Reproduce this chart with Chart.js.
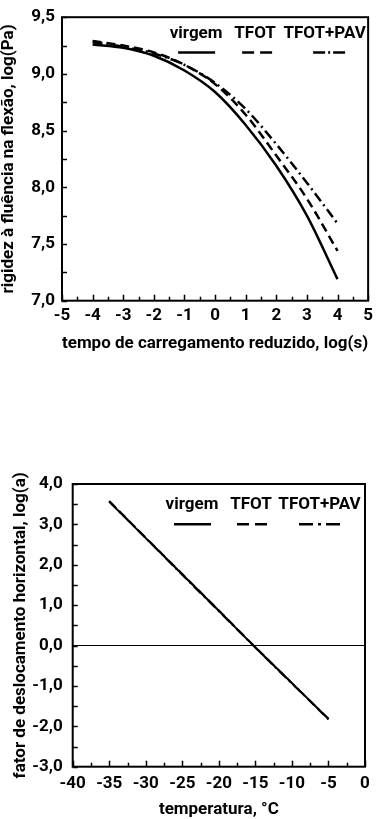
<!DOCTYPE html>
<html><head><meta charset="utf-8">
<script src="https://cdn.jsdelivr.net/npm/chart.js@4"></script>
<style>
html,body{margin:0;padding:0;background:#fff;width:378px;height:819px;overflow:hidden}
canvas{position:absolute;left:0}
#c1{top:0}#c2{top:400px}
</style></head>
<body>
<canvas id="c1" width="378" height="400"></canvas>
<canvas id="c2" width="378" height="419"></canvas>
<script>
// ---- data ----
const seriesNames = ['virgem', 'TFOT', 'TFOT+PAV'];
const logTime = [-4, -3, -2, -1, 0, 1, 2, 3, 4];
const stiffVirgem = [9.26, 9.23, 9.16, 9.03, 8.84, 8.55, 8.19, 7.75, 7.19];
const stiffTFOT   = [9.29, 9.25, 9.19, 9.08, 8.91, 8.64, 8.28, 7.90, 7.44];
const stiffPAV    = [9.28, 9.24, 9.18, 9.08, 8.92, 8.69, 8.38, 8.04, 7.68];
const temps = [-35, -30, -25, -20, -15, -10, -5];
const shiftVirgem = [3.56, 2.66, 1.76, 0.86, -0.05, -0.93, -1.82];
const shiftTFOT   = [3.58, 2.67, 1.77, 0.87, -0.04, -0.93, -1.83];
const shiftPAV    = [3.57, 2.66, 1.75, 0.85, -0.05, -0.94, -1.81];
const xTicksTop = [-5, -4, -3, -2, -1, 0, 1, 2, 3, 4, 5];
const yTicksTop = [7.0, 7.5, 8.0, 8.5, 9.0, 9.5];
const xTicksBot = [-40, -35, -30, -25, -20, -15, -10, -5, 0];
const yTicksBot = [-3, -2, -1, 0, 1, 2, 3, 4];

const FONT = "Roboto, 'Liberation Sans', Arial, sans-serif";
Chart.defaults.font.family = FONT;
Chart.defaults.font.size = 17;
Chart.defaults.font.weight = 'bold';
Chart.defaults.color = '#000';

function allTicks(majors) {
  const out = [];
  for (let i = 0; i < majors.length; i++) {
    out.push(majors[i]);
    if (i < majors.length - 1) out.push((majors[i] + majors[i + 1]) / 2);
  }
  return out;
}
const comma = v => v.toFixed(1).replace('.', ',');
const pts = (xs, ys) => xs.map((x, i) => ({ x, y: ys[i] }));

const frame = {
  id: 'frame',
  afterDraw(chart, args, o) {
    const { ctx, chartArea: a } = chart;
    const xs = chart.scales.x, ys = chart.scales.y;
    ctx.save();
    ctx.strokeStyle = '#000';
    ctx.setLineDash([]);
    ctx.lineWidth = 1.5;
    xs.ticks.forEach(t => {
      const p = Math.round(xs.getPixelForValue(t.value)) + 0.5;
      const L = o.xMajor.includes(t.value) ? 6 : 4;
      ctx.beginPath(); ctx.moveTo(p, a.bottom); ctx.lineTo(p, a.bottom - L); ctx.stroke();
    });
    ys.ticks.forEach(t => {
      const p = Math.round(ys.getPixelForValue(t.value)) + 0.5;
      const L = 5;
      ctx.beginPath(); ctx.moveTo(a.left, p); ctx.lineTo(a.left + L, p); ctx.stroke();
    });
    ctx.lineWidth = 2;
    ctx.strokeRect(a.left, a.top, a.right - a.left, a.bottom - a.top);
    ctx.restore();
  }
};

const keyLegend = {
  id: 'keyLegend',
  afterDraw(chart, args, o) {
    const { ctx, chartArea: a } = chart;
    ctx.save();
    ctx.font = 'bold 17px ' + FONT;
    ctx.fillStyle = '#000';
    ctx.strokeStyle = '#000';
    ctx.textAlign = 'center';
    ctx.textBaseline = 'middle';
    o.items.forEach((it, i) => {
      ctx.fillText(seriesNames[i], a.right - it.tx, a.top + o.textY);
      const cx = a.right - it.lx;
      ctx.setLineDash(it.dash);
      ctx.lineWidth = 2.5;
      ctx.beginPath();
      ctx.moveTo(cx - it.w / 2, a.top + o.lineY);
      ctx.lineTo(cx + it.w / 2, a.top + o.lineY);
      ctx.stroke();
    });
    ctx.restore();
  }
};

function ds(label, data, dash, width, order) {
  return {
    label, data, borderColor: '#000', backgroundColor: '#000', borderWidth: width,
    borderDash: dash, pointRadius: 0, cubicInterpolationMode: 'monotone', fill: false, order
  };
}

// ---- top chart ----
new Chart(document.getElementById('c1'), {
  type: 'line',
  data: {
    datasets: [
      ds(seriesNames[0], pts(logTime, stiffVirgem), [], 2.5, 0),
      ds(seriesNames[1], pts(logTime, stiffTFOT), [9, 5], 2.5, 1),
      ds(seriesNames[2], pts(logTime, stiffPAV), [10, 4, 2, 4], 2.5, 2)
    ]
  },
  options: {
    responsive: false, animation: false, devicePixelRatio: 1,
    layout: { padding: { top: 8, right: 5, left: 0, bottom: 0 } },
    plugins: {
      legend: { display: false }, tooltip: { enabled: false },
      frame: { xMajor: xTicksTop },
      keyLegend: {
        textY: 17, lineY: 35.3,
        items: [
          { tx: 172, lx: 171.5, w: 37, dash: [] },
          { tx: 113, lx: 111, w: 30, dash: [12, 6] },
          { tx: 43.5, lx: 39, w: 32, dash: [12, 3, 2, 3] }
        ]
      }
    },
    scales: {
      x: {
        type: 'linear', min: -5, max: 5,
        afterBuildTicks: s => { s.ticks = allTicks(xTicksTop).map(v => ({ value: v })); },
        afterFit: s => { s.height = 99.3; },
        grid: { display: false, drawTicks: false }, border: { display: false },
        ticks: { autoSkip: false, maxRotation: 0, padding: 5,
          callback: v => xTicksTop.includes(v) ? String(v) : '' },
        title: { display: true, text: 'tempo de carregamento reduzido, log(s)',
          padding: { top: 0, bottom: 45.8 } }
      },
      y: {
        type: 'linear', min: 7, max: 9.5,
        afterBuildTicks: s => { s.ticks = allTicks(yTicksTop).map(v => ({ value: v })); },
        afterFit: s => { s.width = 62; },
        grid: { display: false, drawTicks: false }, border: { display: false },
        ticks: { autoSkip: false, padding: 7,
          callback: v => yTicksTop.includes(v) ? comma(v) : '' },
        title: { display: true, text: 'rigidez à fluência na flexão, log(Pa)',
          font: { lineHeight: 1 }, padding: { top: 0.5, bottom: 0 } }
      }
    }
  },
  plugins: [frame, keyLegend]
});

// ---- bottom chart ----
new Chart(document.getElementById('c2'), {
  type: 'line',
  data: {
    datasets: [
      ds(seriesNames[0], pts(temps, shiftVirgem), [], 2, 0),
      ds(seriesNames[1], pts(temps, shiftTFOT), [9, 5], 2, 1),
      ds(seriesNames[2], pts(temps, shiftPAV), [10, 4, 2, 4], 2, 2)
    ]
  },
  options: {
    responsive: false, animation: false, devicePixelRatio: 1,
    layout: { padding: { top: 84, right: 13, left: 0, bottom: 0 } },
    plugins: {
      legend: { display: false }, tooltip: { enabled: false },
      frame: { xMajor: xTicksBot },
      keyLegend: {
        textY: 21, lineY: 40.3,
        items: [
          { tx: 173, lx: 172.5, w: 37, dash: [] },
          { tx: 114, lx: 113, w: 30, dash: [12, 6] },
          { tx: 45.5, lx: 45.5, w: 41, dash: [14, 5, 3, 5] }
        ]
      }
    },
    scales: {
      x: {
        type: 'linear', min: -40, max: 0,
        afterBuildTicks: s => { s.ticks = allTicks(xTicksBot).map(v => ({ value: v })); },
        afterFit: s => { s.height = 52.3; },
        grid: { display: false, drawTicks: false }, border: { display: false },
        ticks: { autoSkip: false, maxRotation: 0, padding: 7,
          callback: v => xTicksBot.includes(v) ? String(v) : '' },
        title: { display: true, text: 'temperatura, °C',
          font: { lineHeight: 1 }, padding: { top: 0, bottom: 0.5 } }
      },
      y: {
        type: 'linear', min: -3, max: 4,
        afterBuildTicks: s => { s.ticks = allTicks(yTicksBot).map(v => ({ value: v })); },
        afterFit: s => { s.width = 72.7; },
        grid: { display: true, drawTicks: false, lineWidth: 1,
          color: c => (c.tick && c.tick.value === 0) ? '#000' : 'rgba(0,0,0,0)' },
        border: { display: false },
        ticks: { autoSkip: false, padding: 10,
          callback: v => yTicksBot.includes(v) ? comma(v) : '' },
        title: { display: true, text: 'fator de deslocamento horizontal, log(a)',
          font: { lineHeight: 1 }, padding: { top: 12.5, bottom: 0 } }
      }
    }
  },
  plugins: [frame, keyLegend]
});
</script>
</body></html>
